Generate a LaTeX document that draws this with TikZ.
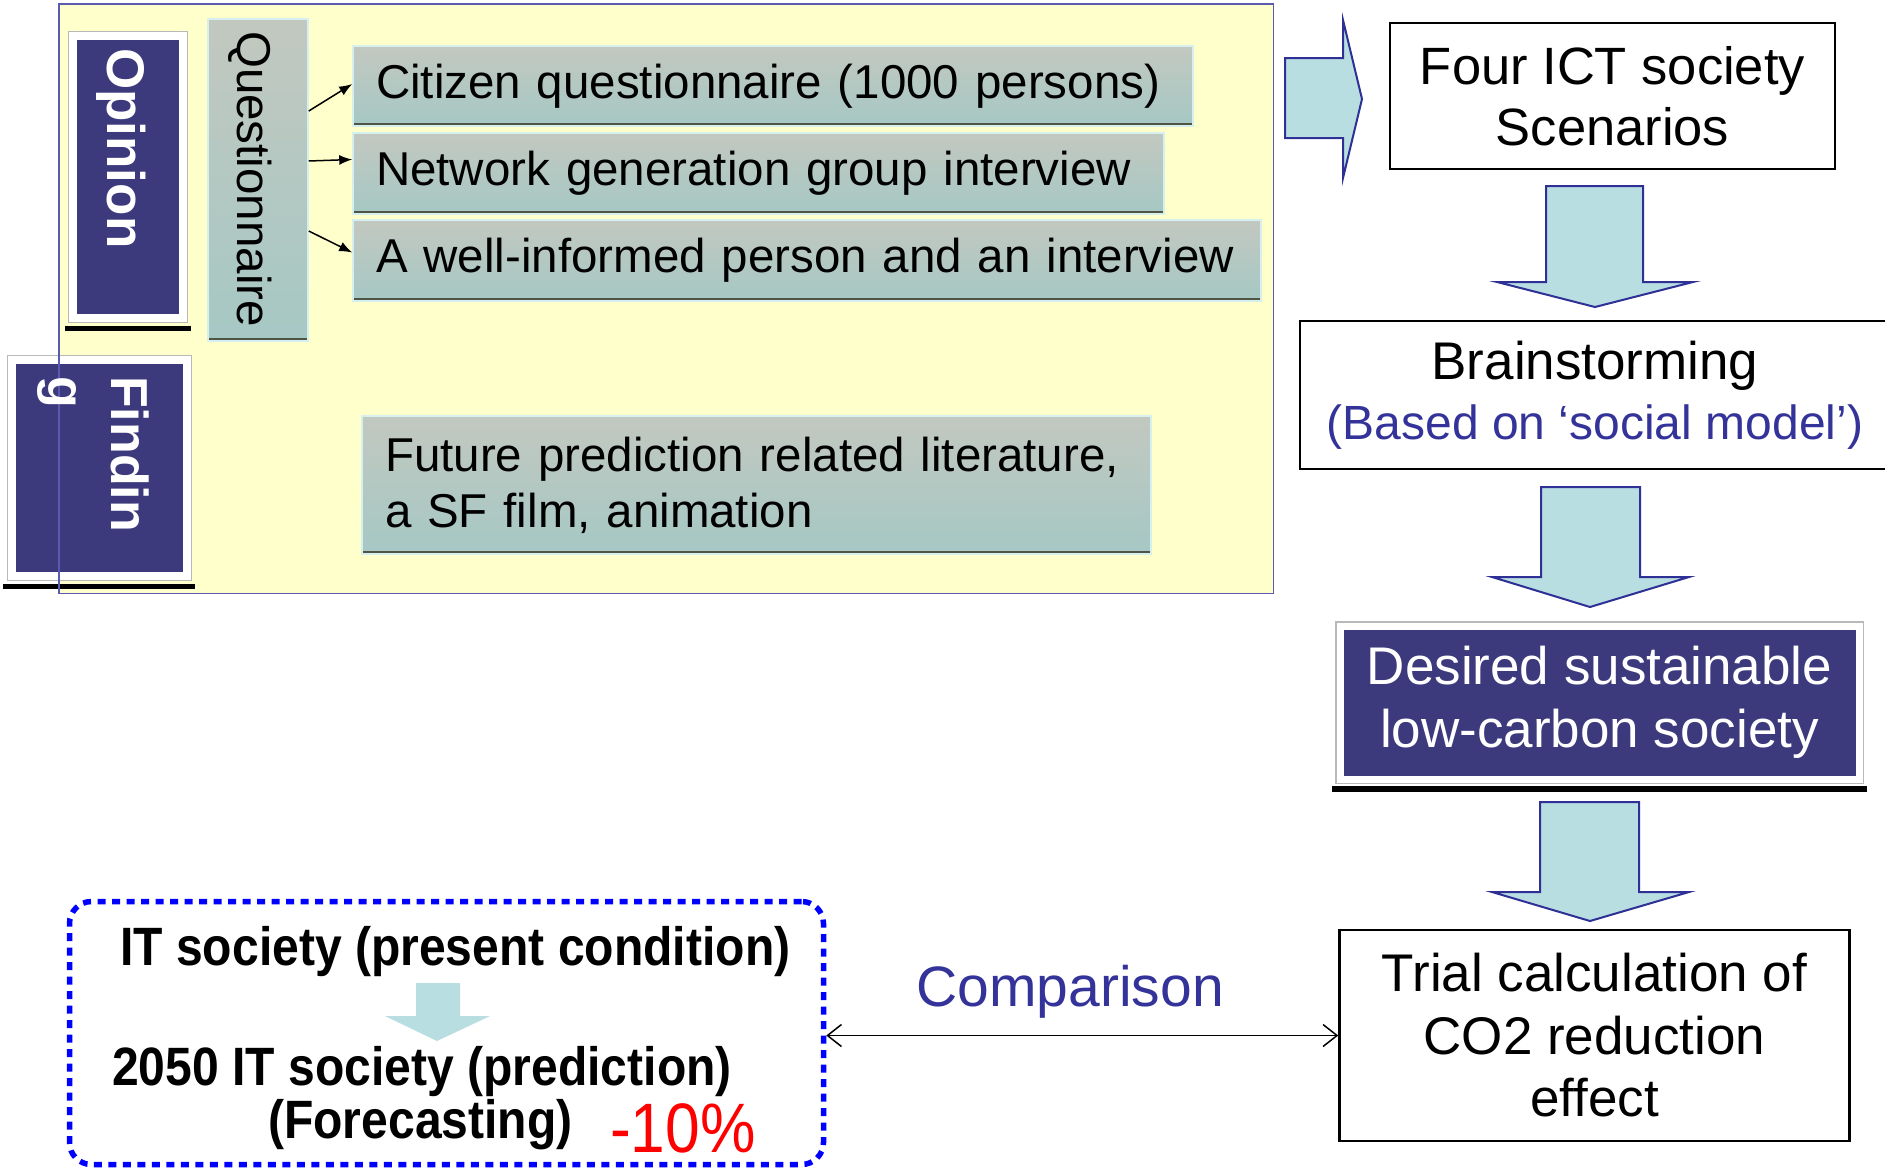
\documentclass[tikz,border=0pt]{standalone}
\usepackage{fontspec}
\setmainfont{Liberation Sans}
\newfontfamily\condfont[FakeStretch=0.89]{Liberation Sans}
\usetikzlibrary{arrows.meta,calc}
\definecolor{navy}{RGB}{60,58,124}
\definecolor{yel}{RGB}{255,255,204}
\definecolor{ybord}{RGB}{90,90,175}
\definecolor{gtop}{RGB}{194,200,192}
\definecolor{gbot}{RGB}{166,200,196}
\definecolor{gline}{RGB}{80,84,68}
\definecolor{glight}{RGB}{214,240,240}
\definecolor{afill}{RGB}{184,222,226}
\definecolor{astroke}{RGB}{46,48,150}
\definecolor{txtblue}{RGB}{51,51,153}
\definecolor{frameedge}{RGB}{185,185,185}
\newcommand{\myfs}[2]{\fontsize{#1}{#2}\selectfont}
\tikzset{
  gbox/.style={top color=gtop, bottom color=gbot, draw=glight, line width=1.5pt,
    path picture={\draw[gline,line width=7pt] (path picture bounding box.south west) -- (path picture bounding box.south east);}},
  gtext/.style={font=\myfs{47.5}{56}, align=left, inner xsep=23pt, inner ysep=0pt},
  navybox/.style={fill=navy, draw=white, line width=8pt, inner sep=0pt,
    preaction={draw=frameedge, line width=10.5pt}},
  plainbox/.style={draw=black, line width=2.5pt, fill=white, align=center, inner sep=0pt},
  blockarr/.style={fill=afill, draw=astroke, line width=2pt, line join=miter},
  qarr/.style={-{Latex[length=13pt,width=10pt]}, line width=1.5pt},
  dotbox/.style={draw=blue, line width=5.5pt, dash pattern=on 8pt off 6.5pt, rounded corners=22pt, inner sep=0pt},
  rottext/.style={rotate=-90, inner sep=0pt},
}
\begin{document}
\begin{tikzpicture}[x=1pt,y=-1pt]
\fill[white] (0,0) rectangle (1885,1171);
\useasboundingbox (0,0) rectangle (1885,1171);

% panel
\node[fill=yel, anchor=north west, minimum width=1214pt, minimum height=589pt, inner sep=0pt] (panel) at (59,4) {};

% Opinion box
\node[navybox, minimum width=110pt, minimum height=282pt] (op) at (128,177) {};
\draw[line width=5pt] ([xshift=-4pt,yshift=-6.5pt]op.south west) -- ([xshift=4pt,yshift=-6.5pt]op.south east);

% Finding box
\node[navybox, minimum width=175pt, minimum height=216pt] (fb) at (99.5,468) {};
\draw[line width=4.5pt] ([xshift=-5pt,yshift=-6.5pt]fb.south west) -- ([xshift=4pt,yshift=-6.5pt]fb.south east);

% panel border on top
\draw[ybord, line width=1.6pt] (panel.north west) rectangle (panel.south east);

% Questionnaire box
\node[gbox, minimum width=100pt, minimum height=322pt, inner sep=0pt] (q) at (258,180) {};

% gray boxes
\node[gbox, gtext, minimum width=840pt, minimum height=80pt, text width=794pt] (cit) at (773,86) {Citizen questionnaire (1000 persons)};
\node[gbox, gtext, minimum width=811pt, minimum height=81pt, text width=765pt] (net) at (758.5,173.5) {Network generation group interview};
\node[gbox, gtext, minimum width=908pt, minimum height=81pt, text width=862pt] (well) at (807,260.5) {A well-informed person and an interview};
\node[gbox, gtext, minimum width=789pt, minimum height=138pt, text width=743pt] (fut) at (756.5,485) {Future prediction related literature,\\a SF film, animation};

% rotated texts
\node[rottext, anchor=west, text=white, font=\bfseries\myfs{53}{60}] (optxt) at (121,48) {Opinion};
\node[rottext, anchor=west, font=\myfs{47.5}{56}] (qtxt) at (250.5,31) {Questionnaire};
\node[rottext, anchor=north west, align=left, text=white, font=\bfseries\myfs{52}{63}] (fbtxt) at (149,376) {Findin\\g};

% questionnaire arrows
\draw[qarr] ([yshift=69pt]q.east) -- ([yshift=2pt]cit.west);
\draw[qarr] ([yshift=19pt]q.east) -- ([yshift=14pt]net.west);
\draw[qarr] ([yshift=-51pt]q.east) -- ([yshift=8pt]well.west);

% right column
\draw[blockarr] (1285,58) -- (1343,58) -- (1343,20) -- (1362,99) -- (1343,178) -- (1343,138) -- (1285,138) -- cycle;
\node[plainbox, font=\myfs{52.5}{61}, minimum width=445pt, minimum height=146pt] (four) at (1612.5,96) {Four ICT society\\Scenarios};
\draw[blockarr] (1546,186) -- (1643,186) -- (1643,282) -- (1693,282) -- (1595,307) -- (1497,282) -- (1546,282) -- cycle;
\node[plainbox, font=\myfs{53}{60}, minimum width=590pt, minimum height=148pt] (brain) at (1595,395) {Brainstorming\\{\color{txtblue}\myfs{48}{60}(Based on ‘social model’)}};
\draw[blockarr] (1541,487) -- (1640,487) -- (1640,577) -- (1689,577) -- (1590,607) -- (1492,577) -- (1541,577) -- cycle;
\node[navybox, line width=7pt, preaction={draw=frameedge, line width=9.5pt}, text=white, align=center, font=\myfs{53}{63}, minimum width=519pt, minimum height=153pt] (des) at (1599.5,702.5) {Desired sustainable\\low-carbon society};
\draw[line width=6pt] ([xshift=-4.5pt,yshift=-6pt]des.south west) -- ([xshift=4.5pt,yshift=-6pt]des.south east);
\draw[blockarr] (1540,802) -- (1639,802) -- (1639,892) -- (1689,892) -- (1590,921) -- (1492,892) -- (1540,892) -- cycle;
\node[plainbox, font=\myfs{53}{62.5}, minimum width=510pt, minimum height=211pt] (trial) at (1594.5,1035.5) {Trial calculation of\\CO2 reduction\\effect};

% bottom left
\node[dotbox, minimum width=754pt, minimum height=263pt] (itbox) at (446.5,1033) {};
\node[anchor=base west, inner sep=0pt, font=\condfont\bfseries\myfs{54}{60}] (t1) at (120,965) {IT society (present condition)};
\fill[afill] (416,983) -- (460,983) -- (460,1016) -- (490,1016) -- (437,1041) -- (385,1016) -- (416,1016) -- cycle;
\node[anchor=base west, inner sep=0pt, font=\condfont\bfseries\myfs{54}{60}] (t2) at (112,1085) {2050 IT society (prediction)};
\node[anchor=base west, inner sep=0pt, font=\condfont\bfseries\myfs{54}{60}] (t3) at (268,1138) {(Forecasting)};
\node[anchor=base west, inner sep=0pt, text=red, font=\condfont\myfs{70}{75}] (t4) at (610,1152) {-10\%};

% comparison
\draw[{Straight Barb[length=14pt,width=22pt]}-{Straight Barb[length=14pt,width=22pt]}, line width=1.5pt] (itbox.east |- trial.west) -- (trial.west);
\node[anchor=base, inner sep=0pt, text=txtblue, font=\myfs{57}{60}] (cmp) at ($(itbox.east)!0.5!(trial.west)+(-12,-28)$) {Comparison};
\end{tikzpicture}
\end{document}
